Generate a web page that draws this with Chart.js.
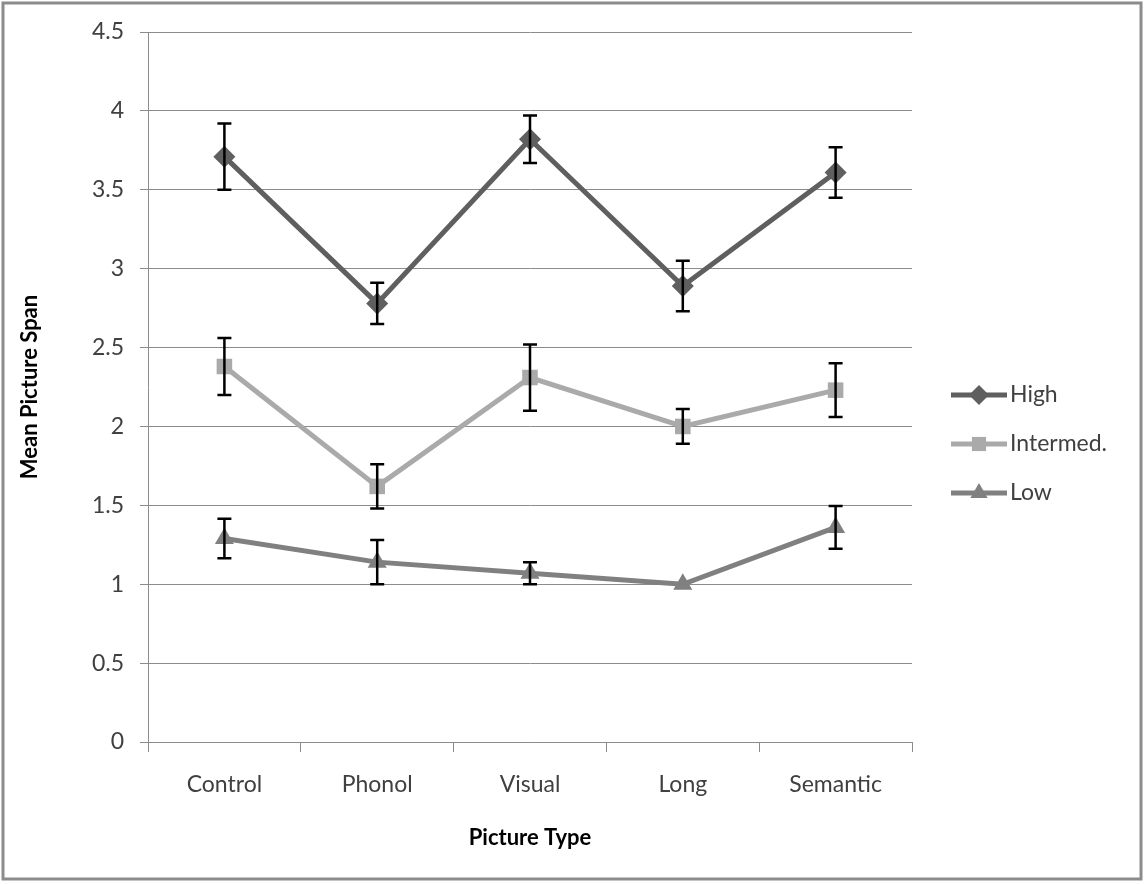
<!DOCTYPE html>
<html lang="en">
  <head>
    <meta charset="UTF-8" />
    <title>Mean Picture Span by Picture Type</title>
    <script src="https://cdn.jsdelivr.net/npm/chart.js"></script>
    <style>
      body { margin: 0; background: #fff; }
    </style>
  </head>
  <body>
    <canvas id="myChart" width="1145" height="884"></canvas>
    <script>
      const categories = ['Control', 'Phonol', 'Visual', 'Long', 'Semantic'];
      const seriesNames = ['High', 'Intermed.', 'Low'];
      const highMean = [3.71, 2.78, 3.82, 2.89, 3.61];
      const highErr = [0.21, 0.13, 0.15, 0.16, 0.16];
      const intermedMean = [2.38, 1.62, 2.31, 2.0, 2.23];
      const intermedErr = [0.18, 0.14, 0.21, 0.11, 0.17];
      const lowMean = [1.29, 1.14, 1.07, 1.0, 1.36];
      const lowErr = [0.125, 0.14, 0.07, 0, 0.135];
      const yTicks = { min: 0, max: 4.5, step: 0.5 };

      const font = 'Lato, "Open Sans", sans-serif';

      // error bars drawn through the y scale
      const errorBars = {
        id: 'errorBars',
        afterDatasetsDraw(chart) {
          const ctx = chart.ctx;
          const y = chart.scales.y;
          ctx.save();
          ctx.strokeStyle = '#000';
          ctx.lineWidth = 2.5;
          chart.data.datasets.forEach((ds, i) => {
            const meta = chart.getDatasetMeta(i);
            meta.data.forEach((pt, j) => {
              const e = ds.err[j];
              if (!e) return;
              const top = y.getPixelForValue(ds.data[j] + e);
              const bot = y.getPixelForValue(ds.data[j] - e);
              ctx.beginPath();
              ctx.moveTo(pt.x, top); ctx.lineTo(pt.x, bot);
              ctx.moveTo(pt.x - 7, top); ctx.lineTo(pt.x + 7, top);
              ctx.moveTo(pt.x - 7, bot); ctx.lineTo(pt.x + 7, bot);
              ctx.stroke();
            });
          });
          ctx.restore();
        }
      };

      // legend with line + marker, and the outer frame
      const sideLegend = {
        id: 'sideLegend',
        afterDraw(chart) {
          const ctx = chart.ctx;
          ctx.save();
          chart.data.datasets.forEach((ds, i) => {
            const ly = 395 + i * 49;
            ctx.strokeStyle = ds.borderColor;
            ctx.lineWidth = 5;
            ctx.beginPath();
            ctx.moveTo(951, ly); ctx.lineTo(1007, ly);
            ctx.stroke();
            ctx.fillStyle = ds.borderColor;
            Chart.helpers.drawPoint(ctx, {
              pointStyle: ds.pointStyle, radius: ds.pointRadius - 1, rotation: 0, borderWidth: 0
            }, 979, ly);
            ctx.fillStyle = '#404040';
            ctx.font = '23px ' + font;
            ctx.textBaseline = 'middle';
            ctx.textAlign = 'left';
            ctx.fillText(ds.label, 1010, ly);
          });
          ctx.strokeStyle = '#8c8c8c';
          ctx.lineWidth = 3;
          ctx.strokeRect(3, 3, 1138, 876);
          ctx.restore();
        }
      };

      function makeSet(label, data, err, color, style, radius) {
        return {
          label: label, data: data, err: err,
          borderColor: color, backgroundColor: color,
          pointBackgroundColor: color, pointBorderColor: color,
          borderWidth: 5, pointStyle: style, pointRadius: radius,
          pointBorderWidth: 0, tension: 0, fill: false
        };
      }

      const ctx = document.getElementById('myChart').getContext('2d');
      const myChart = new Chart(ctx, {
        type: 'line',
        data: {
          labels: categories,
          datasets: [
            makeSet(seriesNames[0], highMean, highErr, '#5f5f5f', 'rectRot', 11),
            makeSet(seriesNames[1], intermedMean, intermedErr, '#aaaaaa', 'rect', 11),
            makeSet(seriesNames[2], lowMean, lowErr, '#808080', 'triangle', 11)
          ]
        },
        options: {
          responsive: false,
          animation: false,
          devicePixelRatio: 1,
          layout: { padding: { top: 32, right: 233, left: 0, bottom: 0 } },
          plugins: { legend: { display: false }, tooltip: { enabled: false } },
          scales: {
            x: {
              offset: true,
              afterFit: s => { s.height = 142; },
              grid: { offset: true, drawOnChartArea: false, drawTicks: true, tickLength: 10, color: '#8c8c8c' },
              border: { color: '#8c8c8c' },
              ticks: { padding: 19, color: '#404040', font: { family: font, size: 23 } },
              title: {
                display: true, text: 'Picture Type', color: '#000',
                font: { family: font, size: 22, weight: 'bold' }, padding: { top: 0, bottom: 33 }
              }
            },
            y: {
              min: yTicks.min, max: yTicks.max,
              afterFit: s => { s.width = 148; },
              grid: { color: '#8c8c8c', tickLength: 8 },
              border: { color: '#8c8c8c' },
              ticks: {
                stepSize: yTicks.step, padding: 16, color: '#404040',
                font: { family: font, size: 23 },
                callback: v => String(v)
              },
              title: {
                display: true, text: 'Mean Picture Span', color: '#000',
                font: { family: font, size: 22, weight: 'bold' }, padding: { top: 17, bottom: 0 }
              }
            }
          }
        },
        plugins: [errorBars, sideLegend]
      });
    </script>
  </body>
</html>
